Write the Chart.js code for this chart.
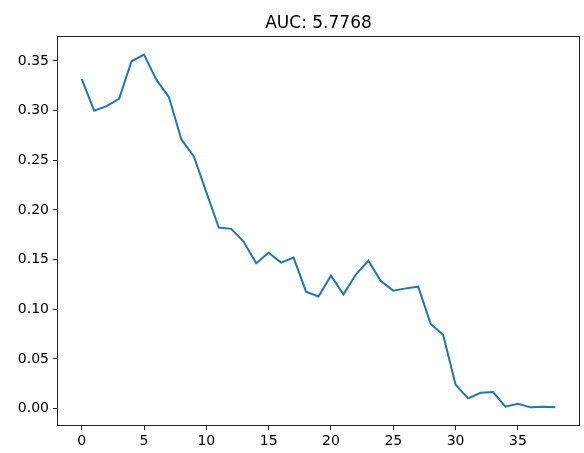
<!DOCTYPE html>
<html>
<head>
<meta charset="utf-8">
<script src="https://cdn.jsdelivr.net/npm/chart.js@4.4.1/dist/chart.umd.min.js"></script>
<style>
  html, body { margin: 0; padding: 0; background: #fff; }
  canvas { display: block; }
</style>
</head>
<body>
<canvas id="c" width="584" height="453"></canvas>
<script>
// Step index along the x axis
const steps = [0, 1, 2, 3, 4, 5, 6, 7, 8, 9, 10, 11, 12, 13, 14, 15, 16, 17, 18, 19,
               20, 21, 22, 23, 24, 25, 26, 27, 28, 29, 30, 31, 32, 33, 34, 35, 36, 37, 38];
// Curve values at each step
const values = [0.332, 0.300, 0.3045, 0.312, 0.3497, 0.3564, 0.331, 0.3136, 0.271, 0.254,
                0.218, 0.1824, 0.181, 0.168, 0.1463, 0.157, 0.147, 0.152, 0.1178, 0.113,
                0.1339, 0.1151, 0.135, 0.1489, 0.1285, 0.1188, 0.1211, 0.1228, 0.0853, 0.0743,
                0.0241, 0.0104, 0.016, 0.0167, 0.002, 0.005, 0.0013, 0.002, 0.0013];
const xTicks = [0, 5, 10, 15, 20, 25, 30, 35];
const yTicks = [0.00, 0.05, 0.10, 0.15, 0.20, 0.25, 0.30, 0.35];
const titleText = 'AUC: 5.7768';

const FONT = "'DejaVu Sans', sans-serif";

// 5% padding around the data range on both axes
const xMin = Math.min(...steps), xMax = Math.max(...steps);
const yMin = Math.min(...values), yMax = Math.max(...values);
const xPad = (xMax - xMin) * 0.05, yPad = (yMax - yMin) * 0.05;

// Box around the plot area plus the title centred above it
const framePlugin = {
  id: 'frame',
  afterDraw(chart) {
    const { ctx, chartArea: a } = chart;
    ctx.save();
    ctx.strokeStyle = '#222';
    ctx.lineWidth = 1;
    ctx.strokeRect(Math.round(a.left) - 0.5, Math.round(a.top) - 0.5,
                   Math.round(a.right - a.left) + 1, Math.round(a.bottom - a.top) + 1);
    ctx.fillStyle = '#000';
    ctx.font = '17px ' + FONT;
    ctx.textAlign = 'center';
    ctx.textBaseline = 'alphabetic';
    ctx.fillText(titleText, (a.left + a.right) / 2, 28);
    ctx.restore();
  }
};

new Chart(document.getElementById('c'), {
  type: 'line',
  data: {
    datasets: [{
      data: steps.map((x, i) => ({ x, y: values[i] })),
      borderColor: '#1f77b4',
      borderWidth: 2,
      pointRadius: 0,
      fill: false,
      tension: 0
    }]
  },
  options: {
    responsive: false,
    animation: false,
    devicePixelRatio: 1,
    layout: { padding: { top: 37, right: 5, left: 0, bottom: 0 } },
    plugins: { legend: { display: false }, title: { display: false }, tooltip: { enabled: false } },
    scales: {
      x: {
        type: 'linear',
        min: xMin - xPad,
        max: xMax + xPad,
        afterBuildTicks(scale) { scale.ticks = xTicks.map(v => ({ value: v })); },
        afterFit(scale) { scale.height = 28; },
        grid: { drawOnChartArea: false, drawTicks: true, tickLength: 5, color: '#222' },
        border: { display: false },
        ticks: {
          color: '#000',
          font: { family: FONT, size: 14 },
          padding: 3,
          maxRotation: 0,
          callback: v => String(v)
        }
      },
      y: {
        type: 'linear',
        min: yMin - yPad,
        max: yMax + yPad,
        afterBuildTicks(scale) { scale.ticks = yTicks.map(v => ({ value: v })); },
        afterFit(scale) { scale.width = 58; },
        grid: { drawOnChartArea: false, drawTicks: true, tickLength: 5, color: '#222' },
        border: { display: false },
        ticks: {
          color: '#000',
          font: { family: FONT, size: 14 },
          padding: 4,
          callback: v => Number(v).toFixed(2)
        }
      }
    }
  },
  plugins: [framePlugin]
});
</script>
</body>
</html>
